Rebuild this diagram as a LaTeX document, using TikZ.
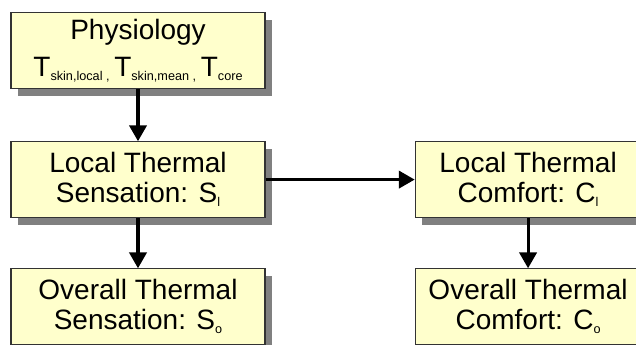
\documentclass[tikz,border=0pt]{standalone}
\usepackage{fontspec}
\setmainfont{Liberation Sans}
\usetikzlibrary{positioning}
\usetikzlibrary{arrows}
\usetikzlibrary{shadows}
\definecolor{boxfill}{HTML}{FFFFCC}
\newcommand{\tsub}[1]{\raisebox{-3pt}{\fontsize{9.5}{9.5}\selectfont #1}}
\tikzset{%
  tedge/.style={->, line width=2.3pt, >=triangle 60},
  tbox/.style={rectangle, draw=black!80, line width=0.8pt, fill=boxfill,
    minimum width=190.5pt, minimum height=57pt, align=center,
    font=\fontsize{21}{22.5}\selectfont,
    drop shadow={shadow xshift=5.5pt, shadow yshift=-5.5pt, opacity=1, fill=black!50}}
}

\begin{document}
\begin{tikzpicture}
  \useasboundingbox (0,0) rectangle (477pt,-258.75pt);
  \node[tbox] (phys) at (103.5pt,-37.9pt) {Physiology\\[5pt]
    T\tsub{skin,local ,}\,T\tsub{skin,mean ,}\,T\tsub{core}};
  \node[tbox, below=39pt of phys] (lsens) {Local Thermal\\Sensation: S\tsub{l}};
  \node[tbox, below=37.5pt of lsens] (osens) {Overall Thermal\\Sensation: S\tsub{o}};
  \node[tbox, minimum width=169.5pt, right=111.75pt of lsens] (lcomf) {Local Thermal\\Comfort: C\tsub{l}};
  \node[tbox, minimum width=169.5pt, below=37.5pt of lcomf] (ocomf) {Overall Thermal\\Comfort: C\tsub{o}};
  \draw [tedge] (phys) -- (lsens);
  \draw [tedge] (lsens) -- (osens);
  \draw [tedge] (lsens) -- (lcomf);
  \draw [tedge] (lcomf) -- (ocomf);
\end{tikzpicture}
\end{document}
